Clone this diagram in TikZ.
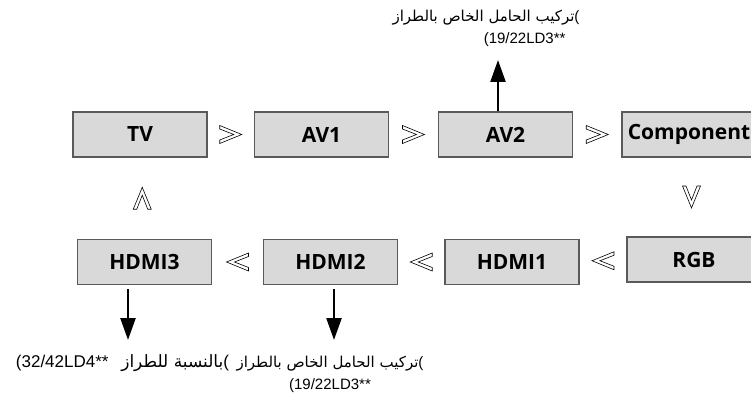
\documentclass[tikz,border=0pt]{standalone}
\usepackage{fontspec}
\setmainfont{Liberation Sans}
\newfontfamily\boxfont{Open Sans}
\newfontfamily\arabicfont[Script=Arabic]{DejaVu Sans}
\TeXXeTstate=1
\usepackage{tikz}
\usetikzlibrary{arrows.meta, positioning, calc}
\usepackage{xcolor}
\definecolor{boxfill}{RGB}{217,217,217}
\definecolor{boxline}{RGB}{90,90,90}

\tikzset{
  srcbox/.style={draw=boxline, fill=boxfill, line width=1.4pt,
    minimum width=134pt, minimum height=45pt, inner sep=0pt,
    font=\boxfont\bfseries\fontsize{21}{24}\selectfont},
  outarrow/.style={-{Triangle[length=22pt, width=15pt]}, line width=2.4pt},
  note/.style={inner sep=0pt, font=\fontsize{15}{22}\selectfont},
  chev/.pic={
    \draw[line width=0.6pt, fill=white]
      (-11,9) -- (11,0) -- (-11,-9) -- (-11,-5.5) -- (3,0) -- (-11,5.5) -- cycle;
  }
}

\begin{document}
\begin{tikzpicture}[x=1pt, y=1pt]
  \useasboundingbox (0,0) rectangle (751,-403);

  % top row
  \node[srcbox] (tv)   at (140,-134.5) {TV};
  \node[srcbox] (av1)  at (321.5,-134.5) {AV1};
  \node[srcbox] (av2)  at (505.5,-134.5) {AV2};
  \node[srcbox] (comp) at (689,-134.5) {Component};

  % bottom row
  \node[srcbox] (hdmi3) at (144.5,-262) {HDMI3};
  \node[srcbox] (hdmi2) at (330.5,-262) {HDMI2};
  \node[srcbox] (hdmi1) at (512,-262) {HDMI1};
  \node[srcbox] (rgb)   at (694,-259.5) {RGB};

  % order of the inputs
  \pic at ($(tv.east)!0.5!(av1.west)$) {chev};
  \pic at ($(av1.east)!0.5!(av2.west)$) {chev};
  \pic at ($(av2.east)!0.5!(comp.west)$) {chev};
  \pic[rotate=-90] at ($(comp.south)!0.5!(rgb.north)$) {chev};
  \pic[rotate=180] at ($(rgb.west)!0.5!(hdmi1.east)$) {chev};
  \pic[rotate=180] at ($(hdmi1.west)!0.5!(hdmi2.east)$) {chev};
  \pic[rotate=180] at ($(hdmi2.west)!0.5!(hdmi3.east)$) {chev};
  \pic[rotate=90] at ($(hdmi3.north)!0.5!(tv.south)$) {chev};

  % notes
  \node[note, align=right] (noteav2) at (486,-28)
    {\beginR({\arabicfont تركيب الحامل الخاص بالطراز}\endR\\(19/22LD3**\hspace*{14pt}};
  \node[note, align=center] (notehdmi2) at (330,-374)
    {\beginR({\arabicfont تركيب الحامل الخاص بالطراز}\endR\\(19/22LD3**};
  \node[note, font=\fontsize{17}{22}\selectfont] (notehdmi3) at (122.5,-363)
    {\beginR({\arabicfont بالنسبة للطراز}\hspace{8pt} \beginL 32/42LD4**\endL(\endR};

  \coordinate (tipav2)   at (498,-60);
  \coordinate (tiphdmi2) at (334,-340);
  \coordinate (tiphdmi3) at (128,-340);

  \draw[outarrow] (av2.north -| tipav2) -- (tipav2);
  \draw[outarrow] ([yshift=-4pt]hdmi2.south -| tiphdmi2) -- (tiphdmi2);
  \draw[outarrow] ([yshift=-4pt]hdmi3.south -| tiphdmi3) -- (tiphdmi3);
\end{tikzpicture}
\end{document}
